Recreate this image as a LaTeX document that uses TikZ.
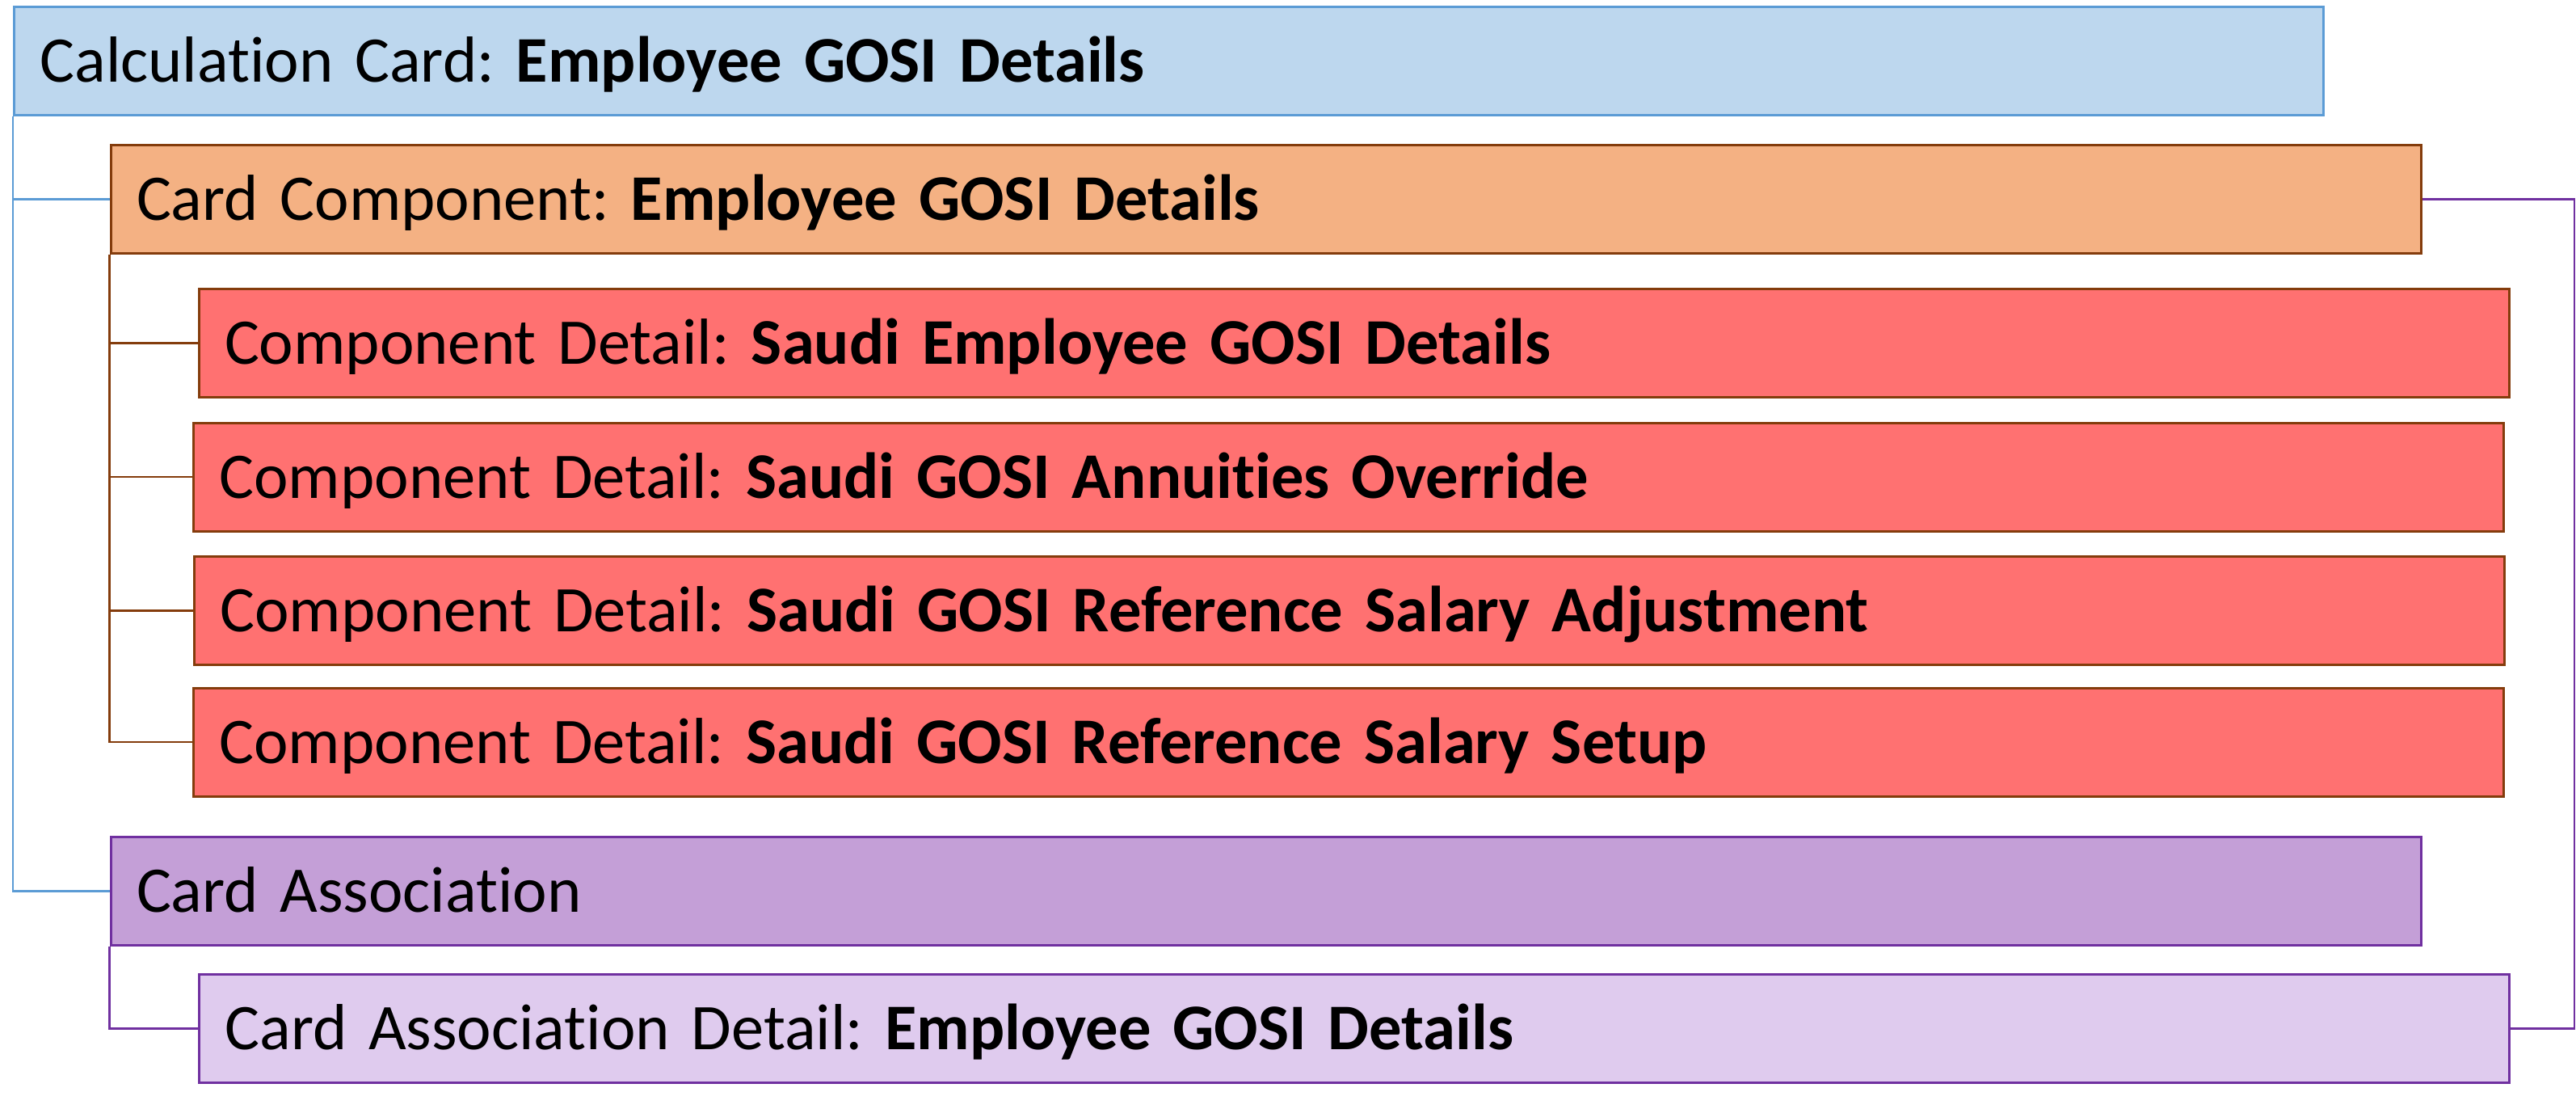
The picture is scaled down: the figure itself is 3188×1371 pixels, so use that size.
\documentclass[tikz,border=0pt]{standalone}
\usepackage{fontspec}
\setmainfont[Ligatures={NoCommon}]{Carlito}
\frenchspacing
\definecolor{calcfill}{HTML}{BDD7EE}
\definecolor{calcline}{HTML}{5B9BD5}
\definecolor{compfill}{HTML}{F4B183}
\definecolor{brownline}{HTML}{843C0C}
\definecolor{detfill}{HTML}{FF7171}
\definecolor{assocfill}{HTML}{C49FD7}
\definecolor{assocdetfill}{HTML}{DFCBEE}
\definecolor{purpleline}{HTML}{7030A0}
\begin{document}
\begin{tikzpicture}[x=0.25pt,y=-0.25pt,
  box/.style={draw, line width=0.75pt, rectangle, inner xsep=8pt, inner ysep=0pt,
    text height=13pt, text depth=0pt, minimum height=33.5pt,
    text width=698.75pt, align=left, font=\fontsize{20.15}{24}\selectfont},
  calcbox/.style={box, fill=calcfill, draw=calcline, text width=698.5pt},
  compbox/.style={box, fill=compfill, draw=brownline},
  detbox/.style={box, fill=detfill, draw=brownline},
  assocbox/.style={box, fill=assocfill, draw=purpleline},
  assocdetbox/.style={box, fill=assocdetfill, draw=purpleline},
  conn/.style={line width=0.6pt}]
\useasboundingbox (0,0) rectangle (3188,1371);
\node[calcbox] (calc) at (1446.5,75.5) {Calculation Card: \textbf{Employee GOSI Details}};
\node[compbox] (comp) at (1566.5,246.5) {Card Component: \textbf{Employee GOSI Details}};
\node[detbox] (r1) at (1675.5,424.5) {Component Detail: \textbf{Saudi Employee GOSI Details}};
\node[detbox] (r2) at (1669,590) {Component Detail: \textbf{Saudi GOSI Annuities Override}};
\node[detbox] (r3) at (1670,755.5) {Component Detail: \textbf{Saudi GOSI Reference Salary Adjustment}};
\node[detbox] (r4) at (1669,918) {Component Detail: \textbf{Saudi GOSI Reference Salary Setup}};
\node[assocbox] (assoc) at (1566.5,1102.5) {Card Association};
\node[assocdetbox] (adet) at (1676,1272.5) {Card Association Detail: \textbf{Employee GOSI Details}};
\coordinate (rr) at (3186,247);
% blue connectors
\draw[conn, calcline] (calc.south west) -- (calc.south west |- assoc.west) -- (assoc.west);
\draw[conn, calcline] (calc.south west |- comp.west) -- (comp.west);
% brown connectors
\draw[conn, brownline] (comp.south west) -- (comp.south west |- r4.west) -- (r4.west);
\draw[conn, brownline] (comp.south west |- r1.west) -- (r1.west);
\draw[conn, brownline] (comp.south west |- r2.west) -- (r2.west);
\draw[conn, brownline] (comp.south west |- r3.west) -- (r3.west);
% purple connectors
\draw[conn, purpleline] (assoc.south west) -- (assoc.south west |- adet.west) -- (adet.west);
\draw[conn, purpleline] (comp.east) -- (comp.east -| rr) -- (rr |- adet.east) -- (adet.east);
\end{tikzpicture}
\end{document}
